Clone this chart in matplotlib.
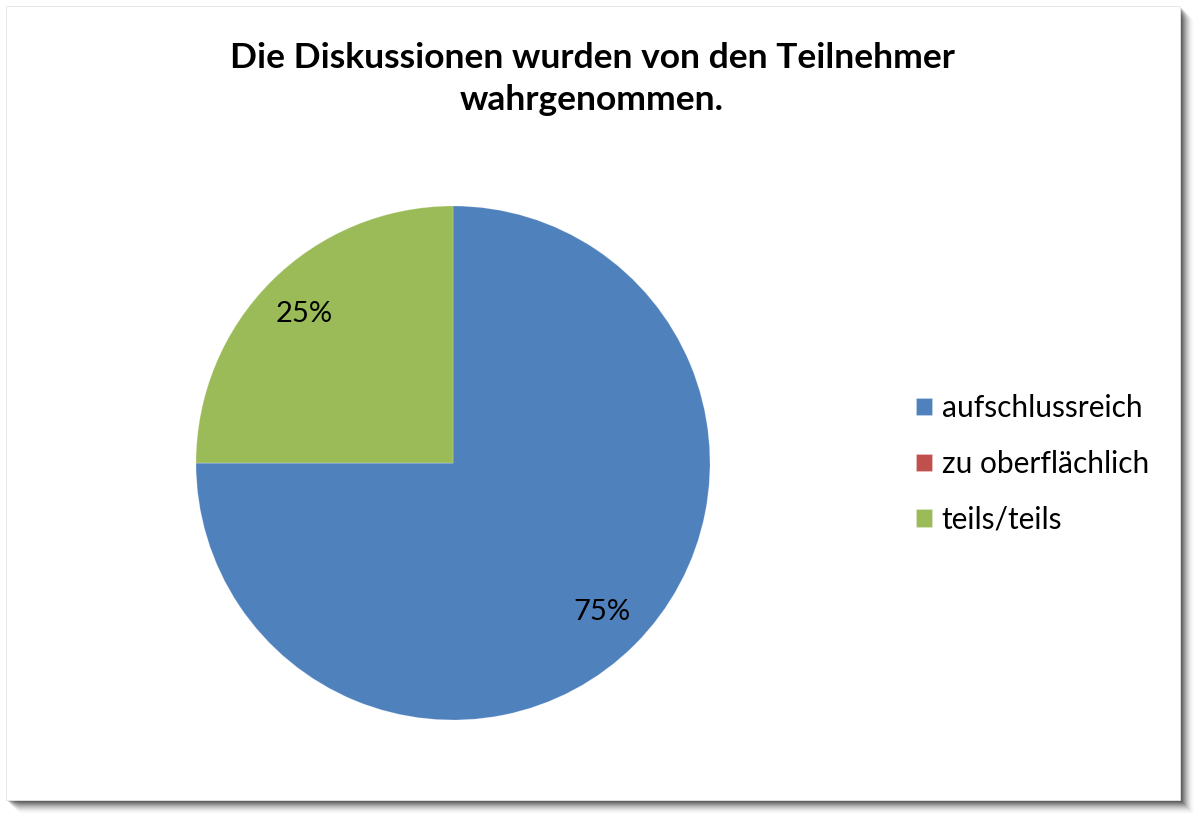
import matplotlib.pyplot as plt
from matplotlib.patches import Rectangle

plt.rcParams["font.family"] = ["Lato", "DejaVu Sans"]

# chart data
labels = ["aufschlussreich", "zu oberflächlich", "teils/teils"]
values = [75, 0, 25]
colors = ["#4F81BD", "#C0504D", "#9BBB59"]
title = "Die Diskussionen wurden von den Teilnehmer\nwahrgenommen."

W, H = 1200, 819
fig = plt.figure(figsize=(W / 100, H / 100), dpi=100)
fig.patch.set_facecolor("white")

# soft drop shadow behind the chart box
x0, y0, x1, y1 = 6, 6, 1180, 800  # pixel box, top-left origin
for i, a in enumerate([0.14, 0.13, 0.12, 0.10, 0.09, 0.07, 0.06, 0.05, 0.04, 0.03, 0.02, 0.015, 0.01]):
    off = i + 2
    fig.patches.append(Rectangle(((x0 + off) / W, (H - y1 - off) / H),
                                 (x1 - x0) / W, (y1 - y0) / H,
                                 transform=fig.transFigure, facecolor="black",
                                 edgecolor="none", alpha=a, zorder=0))
fig.patches.append(Rectangle((x0 / W, (H - y1) / H), (x1 - x0) / W, (y1 - y0) / H,
                             transform=fig.transFigure, facecolor="white",
                             edgecolor="#e4e4e4", linewidth=0.6, zorder=1))

# pie axes: center (453, 463), radius 257 px
cx, cy, r = 453, 463, 257
ax = fig.add_axes([(cx - r) / W, (H - cy - r) / H, 2 * r / W, 2 * r / H])
ax.set_zorder(2)


def pct(p):
    return f"{p:.0f}%" if p > 0 else ""


wedges, texts, autotexts = ax.pie(values, colors=colors, startangle=90, counterclock=False,
                                  autopct=pct, pctdistance=0.82, radius=1,
                                  wedgeprops=dict(linewidth=0.6, edgecolor="#ffffff40"),
                                  textprops=dict(fontsize=21, color="black"))
ax.set_xlim(-1, 1)
ax.set_ylim(-1, 1)
ax.set_aspect("equal")
ax.axis("off")

fig.text(592 / W, 1 - 79 / H, title, ha="center", va="center", fontsize=25.5,
         fontweight="bold", linespacing=1.35, zorder=3)

leg = fig.legend(wedges, labels, loc="center left", bbox_to_anchor=(904 / W, 1 - 464 / H),
                 frameon=False, fontsize=21.5, handlelength=0.53, handleheight=0.53,
                 handletextpad=0.33, labelspacing=0.93, borderaxespad=0)
leg.set_zorder(3)

fig.savefig("out.png", dpi=100, facecolor="white")
